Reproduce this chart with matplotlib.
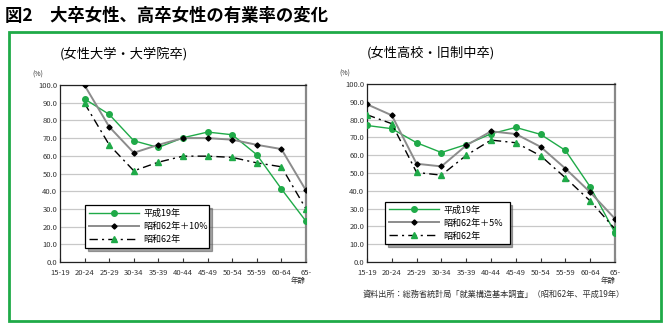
import numpy as np
import matplotlib
matplotlib.use("Agg")
import matplotlib.pyplot as plt
from matplotlib.patches import Rectangle

plt.rcParams['font.family'] = ['Noto Sans CJK JP', 'DejaVu Sans']

# 年齢階級
ages = ["15-19", "20-24", "25-29", "30-34", "35-39", "40-44",
        "45-49", "50-54", "55-59", "60-64", "65-"]

# 女性大学・大学院卒 (20-24 から)
univ_h19 = [92.1, 83.4, 68.5, 64.7, 70.2, 73.4, 71.9, 60.6, 41.3, 23.0]
univ_s62p10 = [99.8, 76.4, 61.7, 66.2, 70.0, 70.0, 69.1, 66.2, 63.8, 40.4]
univ_s62 = [89.6, 66.2, 51.5, 56.4, 59.8, 59.8, 59.1, 56.0, 53.8, 30.0]

# 女性高校・旧制中卒 (15-19 から)
high_h19 = [76.7, 74.9, 67.0, 61.5, 66.0, 72.0, 75.6, 71.7, 62.7, 42.2, 16.4]
high_s62p5 = [88.6, 82.4, 55.2, 53.7, 65.5, 73.4, 71.9, 64.7, 52.5, 39.2, 24.3]
high_s62 = [82.7, 77.7, 50.3, 48.8, 59.9, 68.5, 67.0, 59.7, 47.3, 34.3, 18.5]

GREEN = "#1faa48"

fig = plt.figure(figsize=(6.66, 3.26), dpi=100)

# 外枠
fig.patches.append(Rectangle((8.5 / 666, 1 - 320.5 / 326), 652 / 666, 289 / 326,
                             transform=fig.transFigure, fill=False,
                             edgecolor=GREEN, linewidth=2))

fig.text(5 / 666, 1 - 16 / 326, "図2　大卒女性、高卒女性の有業率の変化",
         fontsize=12.5, fontweight="bold", va="center", ha="left")


def draw_panel(rect, title, start, h19, s62p, s62, plus_label, leg_box, age_x):
    ax = fig.add_axes(rect)
    x = np.arange(start, len(ages))
    ax.plot(x, h19, color=GREEN, lw=1.0, marker="o", ms=4,
            mfc=GREEN, mec=GREEN, label="平成19年", zorder=3)
    ax.plot(x, s62p, color="#8c8c8c", lw=1.4, marker="D", ms=2.6,
            mfc="black", mec="black", label=plus_label, zorder=4)
    ax.plot(x, s62, color="black", lw=1.0, ls=(0, (6, 3, 1.5, 3)), marker="^", ms=4.5,
            mfc=GREEN, mec=GREEN, label="昭和62年", zorder=3)

    ax.set_xlim(0, len(ages) - 1)
    ax.set_ylim(0, 100)
    ax.set_yticks(np.arange(0, 101, 10))
    ax.set_yticklabels([f"{v:.1f}" for v in range(0, 101, 10)])
    ax.set_xticks(np.arange(len(ages)))
    ax.set_xticklabels(ages)
    ax.tick_params(axis="x", direction="in", length=3, labelsize=5.5,
                   pad=5, colors="#333333")
    ax.tick_params(axis="y", length=0, labelsize=5.5, pad=2, colors="#333333")
    ax.grid(axis="y", color="#c8c8c8", lw=0.9)
    ax.set_axisbelow(True)
    for side in ("left", "bottom", "top"):
        ax.spines[side].set_color("#222222")
        ax.spines[side].set_linewidth(0.9)
    ax.spines["right"].set_color("#888888")
    ax.spines["right"].set_linewidth(1.6)

    ax.text(-0.09, 1.045, "(%)", transform=ax.transAxes, fontsize=5, ha="center",
            color="#333333")
    ax.text(age_x, -0.105, "年齢", transform=ax.transAxes, fontsize=5.3, ha="center",
            va="center", color="#333333")
    ax.text(0.0, 1.14, title, transform=ax.transAxes, fontsize=9.5, ha="left",
            va="bottom")

    leg = ax.legend(loc="center", bbox_to_anchor=leg_box, mode="expand",
                    fontsize=6.5, frameon=True, fancybox=False, shadow=True,
                    handlelength=5.5, borderpad=0.4, labelspacing=0.45,
                    handletextpad=0.5)
    leg.get_frame().set_edgecolor("black")
    leg.get_frame().set_linewidth(0.9)
    leg.get_texts()[2].set_fontstyle("italic")
    return ax


draw_panel([60 / 666, 1 - 262 / 326, 246 / 666, 177 / 326],
           "(女性大学・大学院卒)", 1, univ_h19, univ_s62p10, univ_s62,
           "昭和62年＋10%", (0.085, 0.085, 0.54, 0.231), 0.967)

draw_panel([367 / 666, 1 - 262 / 326, 248 / 666, 178 / 326],
           "(女性高校・旧制中卒)", 0, high_h19, high_s62p5, high_s62,
           "昭和62年＋5%", (0.056, 0.107, 0.537, 0.224), 0.972)

fig.text(363 / 666, 1 - 294 / 326,
         "資料出所：総務省統計局「就業構造基本調査」（昭和62年、平成19年）",
         fontsize=5.9, ha="left", va="center", color="#333333")

fig.savefig("out.png", dpi=100)
